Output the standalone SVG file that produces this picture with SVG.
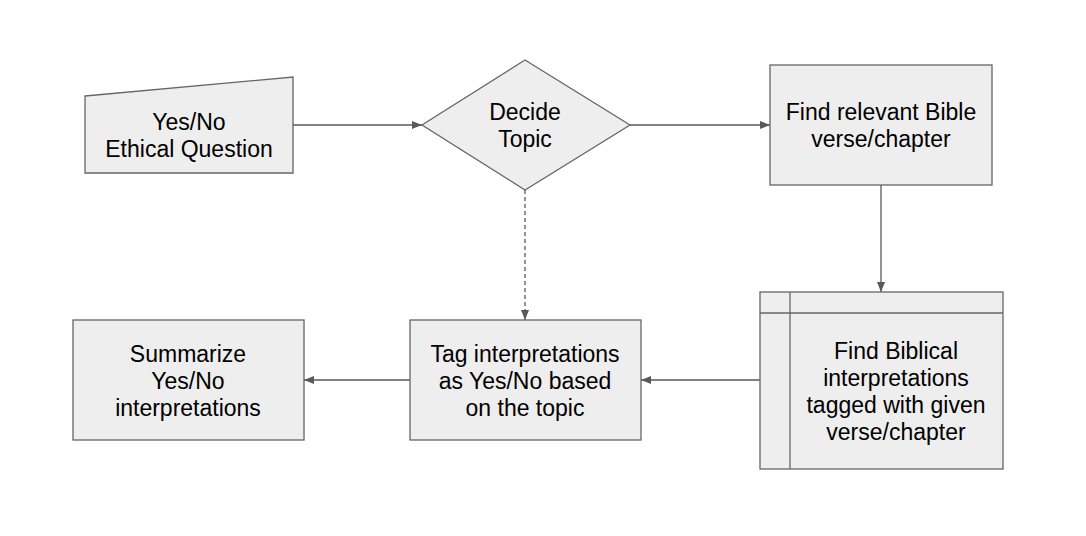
<svg xmlns="http://www.w3.org/2000/svg" width="1086" height="536" viewBox="0 0 1086 536">
<style>
.n{fill:#eeeeee;stroke:#666666;stroke-width:1.3}
.t{font-family:"Liberation Sans",Arial,sans-serif;font-size:23px;fill:#000;text-anchor:middle}
.c{fill:none;stroke:#595959;stroke-width:1.3}
.d{stroke-dasharray:4,3}
</style>
<defs>
<marker id="a" markerWidth="10" markerHeight="8" refX="10" refY="4" orient="auto" markerUnits="userSpaceOnUse">
<path d="M0,0 L10,4 L0,8 Z" fill="#595959"/>
</marker>
</defs>
<rect width="1086" height="536" fill="#ffffff"/>
<g id="connectors">
<line class="c" x1="293" y1="125" x2="422" y2="125" marker-end="url(#a)"/>
<line class="c" x1="630" y1="125" x2="770" y2="125" marker-end="url(#a)"/>
<line class="c" x1="881" y1="185" x2="881" y2="292" marker-end="url(#a)"/>
<line class="c" x1="760" y1="380" x2="641" y2="380" marker-end="url(#a)"/>
<line class="c" x1="410" y1="380" x2="304" y2="380" marker-end="url(#a)"/>
<line class="c d" x1="525" y1="190" x2="525" y2="320" marker-end="url(#a)"/>
</g>
<g id="question">
<polygon class="n" points="85,96 293,77 293,173 85,173"/>
<text class="t" x="189" y="130">Yes/No</text>
<text class="t" x="189" y="157">Ethical Question</text>
</g>
<g id="decide">
<polygon class="n" points="525,60 630,125 525,190 422,125"/>
<text class="t" x="525" y="120">Decide</text>
<text class="t" x="525" y="147">Topic</text>
</g>
<g id="find-verse">
<rect class="n" x="770" y="65" width="222" height="120"/>
<text class="t" x="881" y="120">Find relevant Bible</text>
<text class="t" x="881" y="147">verse/chapter</text>
</g>
<g id="find-interp">
<rect class="n" x="760" y="292" width="243" height="177"/>
<line class="n" x1="790" y1="292" x2="790" y2="469"/>
<line class="n" x1="760" y1="313" x2="1003" y2="313"/>
<text class="t" x="896" y="359">Find Biblical</text>
<text class="t" x="896" y="386">interpretations</text>
<text class="t" x="896" y="413">tagged with given</text>
<text class="t" x="896" y="440">verse/chapter</text>
</g>
<g id="tag">
<rect class="n" x="410" y="320" width="231" height="120"/>
<text class="t" x="525" y="362">Tag interpretations</text>
<text class="t" x="525" y="389">as Yes/No based</text>
<text class="t" x="525" y="416">on the topic</text>
</g>
<g id="summarize">
<rect class="n" x="73" y="320" width="231" height="120"/>
<text class="t" x="188" y="362">Summarize</text>
<text class="t" x="188" y="389">Yes/No</text>
<text class="t" x="188" y="416">interpretations</text>
</g>
</svg>
